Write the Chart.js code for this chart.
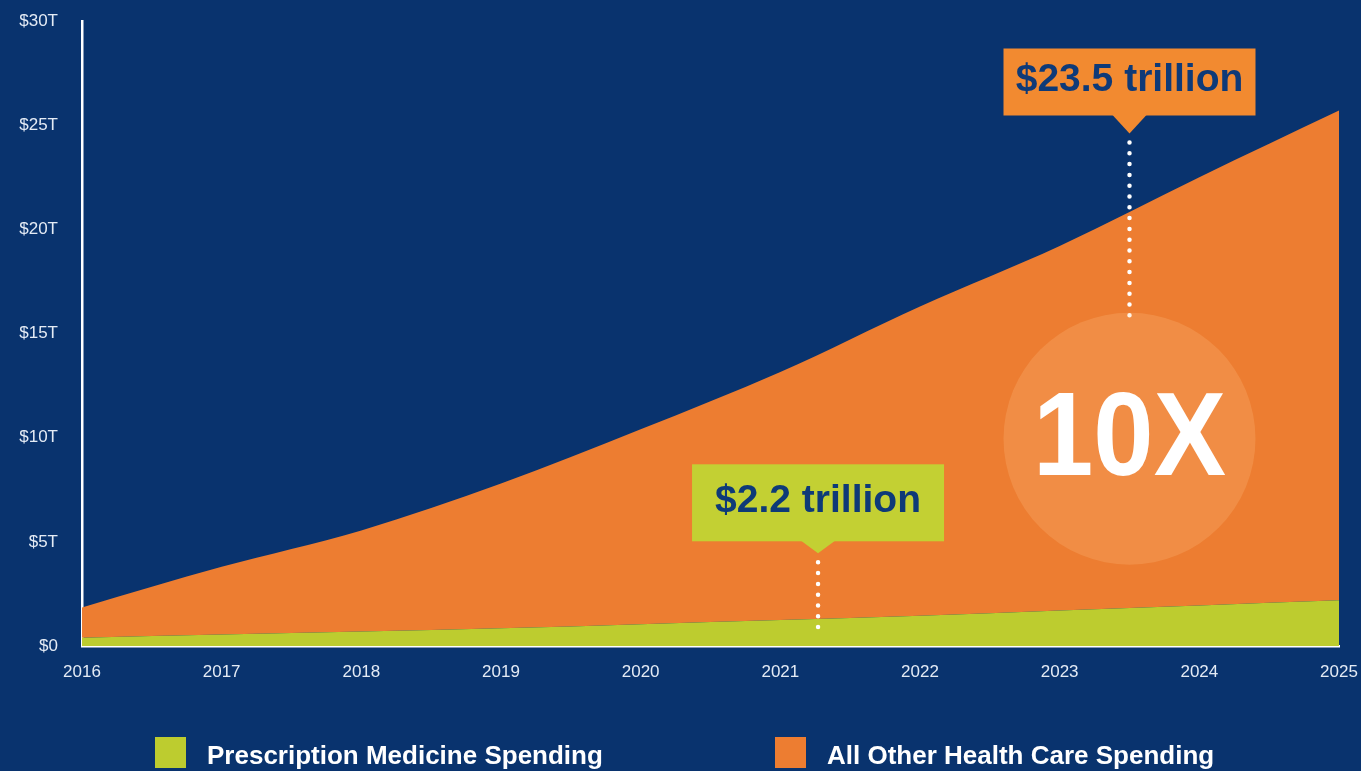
<!DOCTYPE html>
<html>
<head>
<meta charset="utf-8">
<title>Health care spending 2016-2025</title>
<script src="https://cdn.jsdelivr.net/npm/chart.js@4.4.1/dist/chart.umd.min.js"></script>
<style>
  html, body { margin: 0; padding: 0; background: #09336e; }
  #wrap { position: relative; width: 1361px; height: 771px; }
</style>
</head>
<body>
<div id="wrap"><canvas id="spend"></canvas></div>
<script>
// spending in trillions of dollars, cumulative from 2016
const years = ['2016', '2017', '2018', '2019', '2020', '2021', '2022', '2023', '2024', '2025'];
const rxSpend = [0.4, 0.55, 0.7, 0.85, 1.05, 1.25, 1.45, 1.7, 1.95, 2.2];
const otherSpend = [1.45, 3.25, 4.85, 6.95, 9.35, 11.9, 14.85, 17.5, 20.55, 23.5];
const yTicks = [0, 5, 10, 15, 20, 25, 30];
const seriesNames = ['Prescription Medicine Spending', 'All Other Health Care Spending'];

const INK = '#0e3a78';
const GREEN = '#bdcc2f';
const ORANGE = '#ed7d31';
const FONT = "'Liberation Sans', Arial, sans-serif";

// callouts hang off the last value of a series; x is a fractional year index
const callouts = [
  { ds: 1, x: 7.5, tip: 24.6, dotsTo: 15.5, w: 252, h: 67, ph: 18, fill: '#f28a30' },
  { ds: 0, x: 5.27, tip: 4.45, dotsTo: 0.75, w: 252, h: 77, ph: 12, fill: '#c3d033' }
];
const ratioBadge = { text: '10X', x: 7.5, y: 9.95, r: 126 };
const legendX = [155, 775];

function dots(ctx, x, y1, y2) {
  ctx.save();
  ctx.strokeStyle = '#fff';
  ctx.lineWidth = 4.5;
  ctx.lineCap = 'round';
  ctx.setLineDash([0, 10.8]);
  ctx.beginPath();
  ctx.moveTo(x, y1);
  ctx.lineTo(x, y2);
  ctx.stroke();
  ctx.restore();
}

const overlay = {
  id: 'overlay',
  afterDraw(chart) {
    const ctx = chart.ctx;
    const xs = chart.scales.x, ys = chart.scales.y;

    // dotted leaders + callout boxes
    callouts.forEach(c => {
      const data = chart.data.datasets[c.ds].data;
      const label = '$' + data[data.length - 1] + ' trillion';
      const cx = xs.getPixelForValue(c.x);
      const tipY = ys.getPixelForValue(c.tip);
      dots(ctx, cx, tipY + 9, ys.getPixelForValue(c.dotsTo));
      const top = tipY - c.ph - c.h;
      ctx.fillStyle = c.fill;
      ctx.fillRect(cx - c.w / 2, top, c.w, c.h);
      ctx.beginPath();
      ctx.moveTo(cx - 17, top + c.h - 0.5);
      ctx.lineTo(cx + 17, top + c.h - 0.5);
      ctx.lineTo(cx, tipY);
      ctx.closePath();
      ctx.fill();
      ctx.fillStyle = INK;
      ctx.font = 'bold 39px ' + FONT;
      ctx.textAlign = 'center';
      ctx.textBaseline = 'middle';
      ctx.fillText(label, cx, top + c.h / 2 - 2);
    });

    // ratio badge
    const bx = xs.getPixelForValue(ratioBadge.x);
    const by = ys.getPixelForValue(ratioBadge.y);
    ctx.save();
    ctx.fillStyle = 'rgba(255,200,140,0.22)';
    ctx.beginPath();
    ctx.arc(bx, by, ratioBadge.r, 0, Math.PI * 2);
    ctx.fill();
    ctx.fillStyle = '#fff';
    ctx.font = 'bold 118px ' + FONT;
    ctx.textAlign = 'center';
    ctx.textBaseline = 'middle';
    const tw = ctx.measureText(ratioBadge.text).width;
    ctx.translate(bx, by + 4);
    ctx.scale(193 / tw, 1);
    ctx.fillText(ratioBadge.text, 0, 0);
    ctx.restore();

    // legend along the bottom edge
    ctx.save();
    ctx.font = 'bold 26px ' + FONT;
    ctx.textAlign = 'left';
    ctx.textBaseline = 'middle';
    chart.data.datasets.forEach((d, i) => {
      ctx.fillStyle = d.backgroundColor;
      ctx.fillRect(legendX[i], 737, 31, 31);
      ctx.fillStyle = '#fff';
      ctx.fillText(d.label, legendX[i] + 52, 757);
    });
    ctx.restore();
  }
};

const tickFont = { family: FONT, size: 17 };

new Chart(document.getElementById('spend'), {
  type: 'line',
  data: {
    labels: years,
    datasets: [
      { label: seriesNames[0], data: rxSpend, backgroundColor: GREEN, borderColor: GREEN,
        borderWidth: 0, pointRadius: 0, fill: 'origin', cubicInterpolationMode: 'monotone' },
      { label: seriesNames[1], data: otherSpend, backgroundColor: ORANGE, borderColor: ORANGE,
        borderWidth: 0, pointRadius: 0, fill: '-1', cubicInterpolationMode: 'monotone' }
    ]
  },
  options: {
    responsive: true,
    maintainAspectRatio: false,
    animation: false,
    devicePixelRatio: 1,
    layout: { padding: { top: 21, right: 22, left: 0, bottom: 0 } },
    plugins: { legend: { display: false }, tooltip: { enabled: false } },
    scales: {
      x: {
        grid: { display: false, drawTicks: false },
        border: { display: true, color: '#ffffff', width: 2.5 },
        ticks: { color: '#e4ebf5', font: tickFont, padding: 16, maxRotation: 0, autoSkip: false },
        afterFit(s) { s.height = 125; s.paddingLeft = 0; s.paddingRight = 0; }
      },
      y: {
        stacked: true,
        min: 0,
        max: 30,
        afterBuildTicks(s) { s.ticks = yTicks.map(v => ({ value: v })); },
        grid: { display: false, drawTicks: false },
        border: { display: true, color: '#ffffff', width: 2.5 },
        ticks: {
          color: '#e4ebf5', font: tickFont, padding: 24,
          callback: v => v === 0 ? '$0' : '$' + v + 'T'
        },
        afterFit(s) { s.width = 82; s.paddingTop = 0; s.paddingBottom = 0; }
      }
    }
  },
  plugins: [overlay]
});
</script>
</body>
</html>
